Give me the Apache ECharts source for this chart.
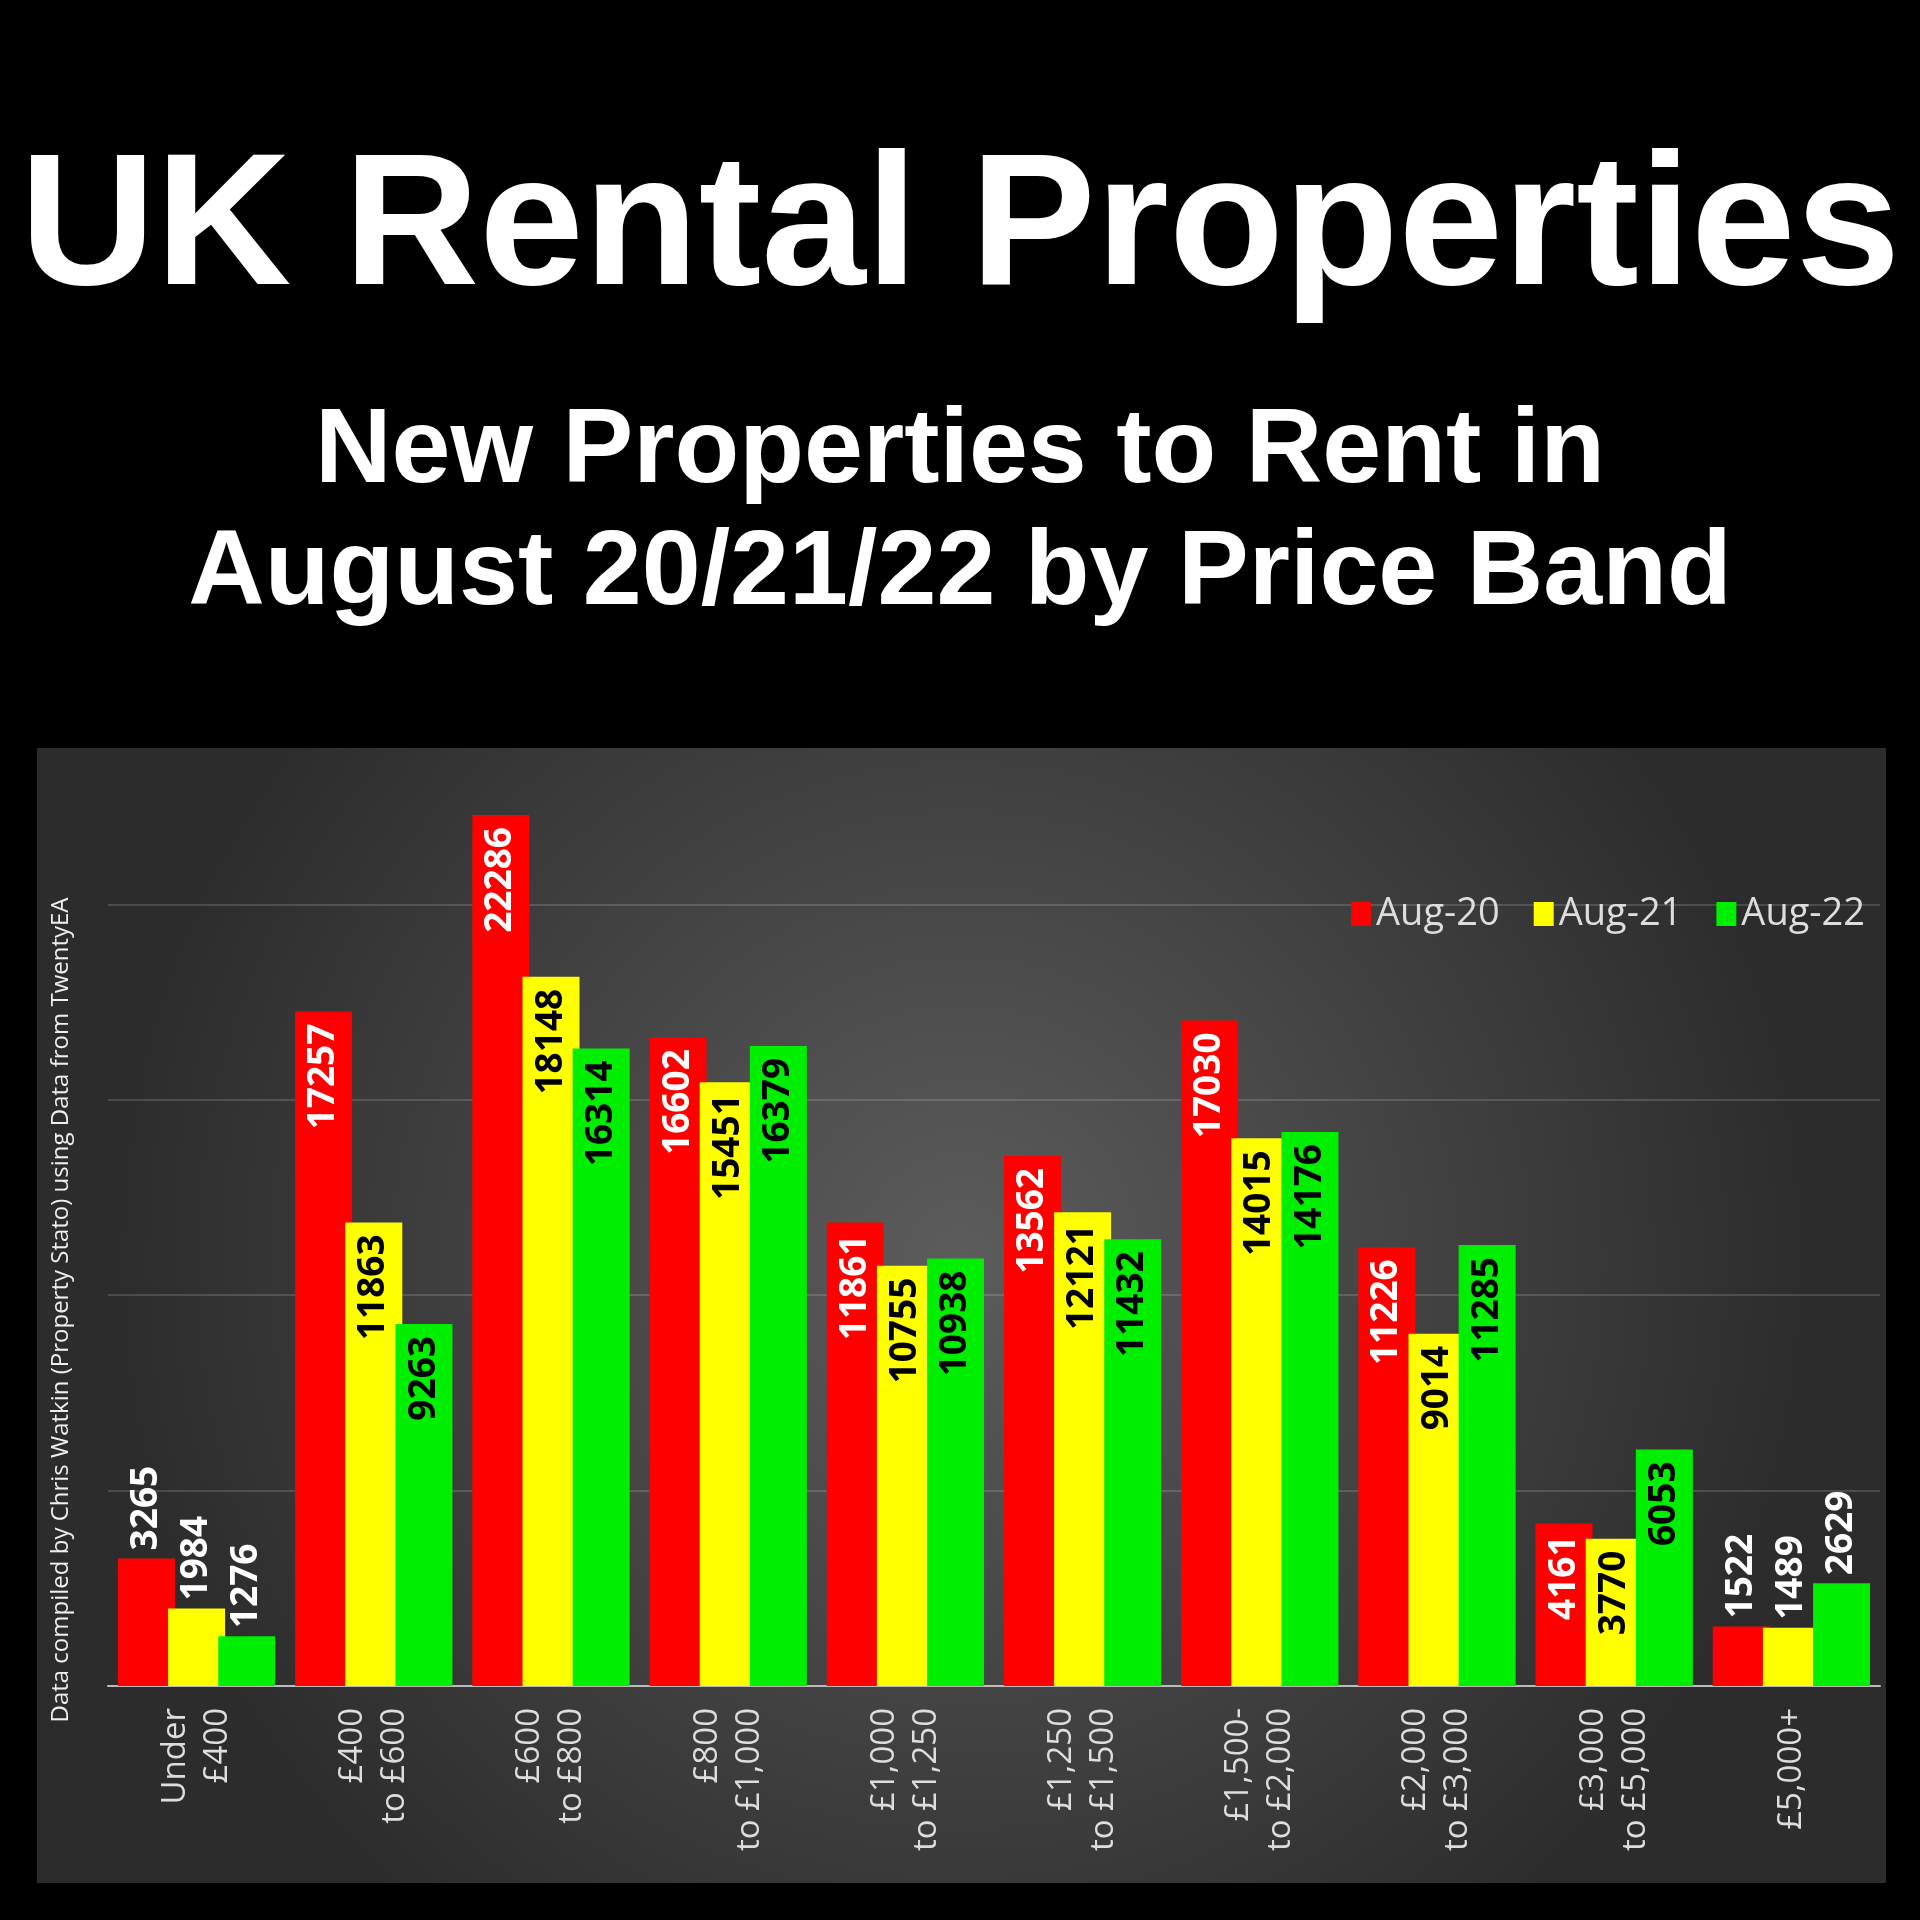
<!DOCTYPE html>
<html>
<head>
<meta charset="utf-8">
<style>html,body{margin:0;padding:0;background:#000;}#main{width:1920px;height:1920px;}</style>
<script src="https://cdn.jsdelivr.net/npm/echarts@6/dist/echarts.min.js"></script>
</head>
<body>
<div id="main"></div>
<script>
var categories = ['Under\n£400', '£400\nto £600', '£600\nto £800', '£800\nto £1,000', '£1,000\nto £1,250',
    '£1,250\nto £1,500', '£1,500-\nto £2,000', '£2,000\nto £3,000', '£3,000\nto £5,000', '£5,000+'];
var aug20 = [3265, 17257, 22286, 16602, 11861, 13562, 17030, 11226, 4161, 1522];
var aug21 = [1984, 11863, 18148, 15451, 10755, 12121, 14015, 9014, 3770, 1489];
var aug22 = [1276, 9263, 16314, 16379, 10938, 11432, 14176, 11285, 6053, 2629];
var seriesNames = ['Aug-20', 'Aug-21', 'Aug-22'];
var colors = ['#ff0000', '#ffff00', '#00ee00'];
var insideText = ['#ffffff', '#000000', '#000000'];

var font = "'Liberation Sans', sans-serif";
var myChart = echarts.init(document.getElementById('main'));

// small bars get the label above, bigger ones inside near the top
function buildData(values, idx) {
    return values.map(function (v) {
        if (v < 3500) {
            return {value: v, label: {position: 'top', align: 'left', color: '#fff', distance: 8}};
        }
        return {value: v, label: {position: 'insideTop', align: 'right', color: insideText[idx], distance: 12}};
    });
}

var series = [aug20, aug21, aug22].map(function (vals, i) {
    return {
        name: seriesNames[i],
        type: 'bar',
        barWidth: 57,
        barGap: '-12%',
        itemStyle: {color: colors[i]},
        label: {
            show: true,
            rotate: 90,
            verticalAlign: 'middle',
            fontSize: 37,
            fontWeight: 'bold',
            fontFamily: "'Open Sans', sans-serif"
        },
        data: buildData(vals, i)
    };
});

var option = {
    backgroundColor: '#000',
    graphic: [
        {
            type: 'rect', z: -10,
            shape: {x: 37, y: 748, width: 1849, height: 1135},
            style: {
                fill: new echarts.graphic.RadialGradient(0.5, 0.45, 0.75, [
                    {offset: 0, color: '#5c5c5c'},
                    {offset: 1, color: '#2c2c2c'}
                ])
            }
        },
        {
            type: 'text', left: 'center', top: 138,
            style: {text: 'UK Rental Properties', fill: '#fff', font: "bold 188px " + font}
        },
        {
            type: 'text', left: 'center', top: 400,
            style: {text: 'New Properties to Rent in', fill: '#fff', font: "bold 106px " + font}
        },
        {
            type: 'text', left: 'center', top: 522,
            style: {text: 'August 20/21/22 by Price Band', fill: '#fff', font: "bold 106px " + font}
        },
        {
            type: 'text', x: 61, y: 1310, rotation: Math.PI / 2,
            style: {
                text: 'Data compiled by Chris Watkin (Property Stato) using Data from TwentyEA',
                fill: '#eee', font: "24px 'Open Sans', sans-serif", align: 'center', verticalAlign: 'middle'
            }
        }
    ],
    legend: {
        data: seriesNames,
        right: 50,
        top: 890,
        itemWidth: 20,
        itemHeight: 24,
        itemGap: 34,
        icon: 'rect',
        textStyle: {color: '#ddd', fontSize: 38, fontFamily: "'Open Sans', sans-serif"}
    },
    grid: {left: 108, right: 40, top: 709, bottom: 234},
    xAxis: {
        type: 'category',
        data: categories,
        axisLine: {lineStyle: {color: '#bbb', width: 2}},
        axisTick: {show: false},
        axisLabel: {
            rotate: 90,
            color: '#ddd',
            fontSize: 33,
            lineHeight: 42,
            margin: 22,
            fontFamily: "'Open Sans', sans-serif"
        }
    },
    yAxis: {
        type: 'value',
        min: 0,
        max: 25000,
        interval: 5000,
        axisLabel: {show: false},
        axisLine: {show: false},
        splitLine: {showMinLine: false, showMaxLine: false, lineStyle: {color: 'rgba(255,255,255,0.15)', width: 2}}
    },
    series: series
};

myChart.setOption(option);
</script>
</body>
</html>
